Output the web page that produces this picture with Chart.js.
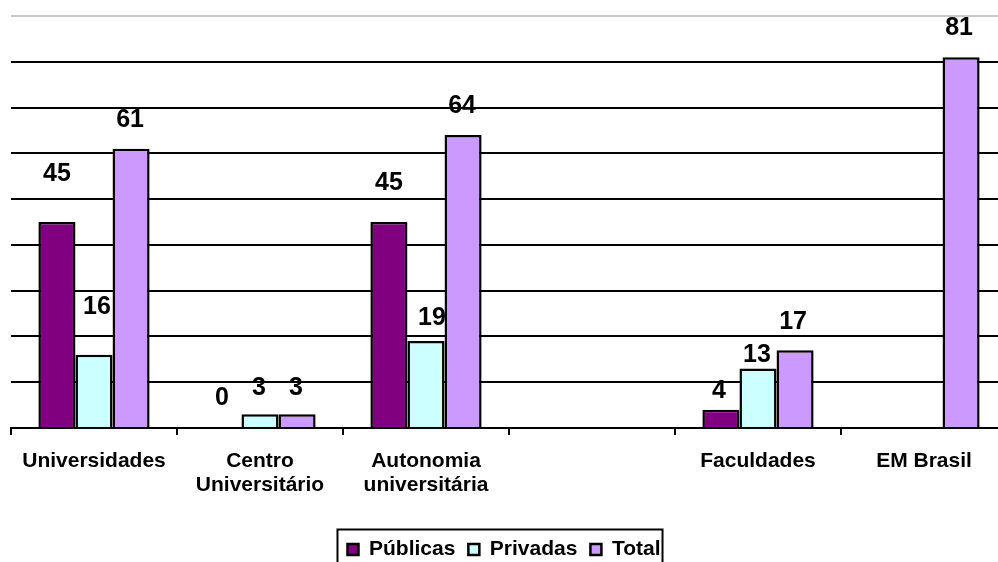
<!DOCTYPE html>
<html>
<head>
<meta charset="utf-8">
<script src="https://cdn.jsdelivr.net/npm/chart.js@4.4.1/dist/chart.umd.min.js"></script>
<style>
  html, body { margin: 0; padding: 0; background: #fff; overflow: hidden; }
  #wrap { width: 998px; height: 562px; overflow: hidden; position: relative; }
  #wrap canvas { position: absolute; left: 0; top: 0; }
</style>
</head>
<body>
<div id="wrap"><canvas id="myChart" width="1012" height="570"></canvas></div>
<script>
const categories = [
  'Universidades',
  ['Centro', 'Universitário'],
  ['Autonomia', 'universitária'],
  '',
  'Faculdades',
  'EM Brasil'
];
const publicas = [45, 0, 45, null, 4, null];
const privadas = [16, 3, 19, null, 13, null];
const total = [61, 3, 64, null, 17, 81];
const yTicks = [0, 10, 20, 30, 40, 50, 60, 70, 80, 90];

// where the value labels sit (px above bar top, px sideways), they were moved by hand in the original
const labelLift = [
  [48, 30, 39, 0, 19, 0],
  [48, 26, 23, 0, 13, 0],
  [29, 26, 29, 0, 28, 29]
];
const labelShift = [
  [0, -1, 0, 0, -2, 0],
  [3, -1, 6, 0, -1, 0],
  [-1, -1, -1, 0, -2, -2]
];

const fontFam = "'Liberation Sans', Arial, sans-serif";
const legendNudge = -5;

const valueLabels = {
  id: 'valueLabels',
  afterDatasetsDraw(chart) {
    const ctx = chart.ctx;
    ctx.save();
    ctx.font = 'bold 25px ' + fontFam;
    ctx.fillStyle = '#000';
    ctx.textAlign = 'center';
    ctx.textBaseline = 'middle';
    chart.data.datasets.forEach((ds, di) => {
      const meta = chart.getDatasetMeta(di);
      meta.data.forEach((bar, i) => {
        const v = ds.data[i];
        if (v === null || v === undefined) return;
        ctx.fillText(String(v), bar.x + labelShift[di][i], bar.y - labelLift[di][i]);
      });
    });
    ctx.restore();
  }
};

// legend in the original sits a bit left of the centre and has a frame round it
const legendFrame = {
  id: 'legendFrame',
  beforeDraw(chart) {
    const lg = chart.legend;
    if (lg._nudged) return;
    lg.left += legendNudge;
    lg.right += legendNudge;
    lg._nudged = true;
  },
  afterLayout(chart) {
    chart.legend._nudged = false;
  },
  afterDraw(chart) {
    const boxes = chart.legend.legendHitBoxes;
    if (!boxes || !boxes.length) return;
    const left = Math.min(...boxes.map(b => b.left)) - 10 + legendNudge;
    const right = Math.max(...boxes.map(b => b.left + b.width)) + 2 + legendNudge;
    const top = boxes[0].top + boxes[0].height / 2 - 20;
    const ctx = chart.ctx;
    ctx.save();
    ctx.strokeStyle = '#000';
    ctx.lineWidth = 2;
    ctx.strokeRect(left, top, right - left, chart.height + 10 - top);
    ctx.restore();
  }
};

const ctx = document.getElementById('myChart').getContext('2d');

const chart = new Chart(ctx, {
  type: 'bar',
  data: {
    labels: categories,
    datasets: [
      {
        label: 'Públicas',
        backgroundColor: '#800080',
        borderColor: '#000',
        borderWidth: 2.5,
        data: publicas
      },
      {
        label: 'Privadas',
        backgroundColor: '#ccffff',
        borderColor: '#000',
        borderWidth: 2.5,
        data: privadas
      },
      {
        label: 'Total',
        backgroundColor: '#cc99ff',
        borderColor: '#000',
        borderWidth: 2.5,
        data: total
      }
    ]
  },
  options: {
    responsive: false,
    animation: false,
    events: [],
    datasets: {
      bar: { categoryPercentage: 0.67, barPercentage: 1.0 }
    },
    layout: { padding: { left: 11, right: 5, top: 16, bottom: 0 } },
    plugins: {
      tooltip: { enabled: false },
      legend: {
        position: 'bottom',
        labels: {
          boxWidth: 11,
          boxHeight: 11,
          padding: 13,
          color: '#000',
          font: { family: fontFam, size: 21, weight: 'bold' }
        }
      }
    },
    scales: {
      x: {
        afterFit(axis) { axis.height = 98; },
        border: { display: true, color: '#000', width: 2 },
        grid: {
          offset: true,
          drawOnChartArea: false,
          drawTicks: true,
          tickLength: 7,
          color: '#000',
          lineWidth: 2
        },
        ticks: {
          color: '#000',
          padding: 14,
          maxRotation: 0,
          autoSkip: false,
          font: { family: fontFam, size: 21, weight: 'bold', lineHeight: 1.15 }
        }
      },
      y: {
        min: 0,
        max: 90,
        afterBuildTicks(axis) { axis.ticks = yTicks.map(v => ({ value: v })); },
        border: { display: false },
        grid: {
          drawTicks: false,
          lineWidth: 2,
          color: c => (c.tick && c.tick.value === 90 ? '#c8c8c8' : '#000')
        },
        ticks: { display: false }
      }
    }
  },
  plugins: [valueLabels, legendFrame]
});
</script>
</body>
</html>
